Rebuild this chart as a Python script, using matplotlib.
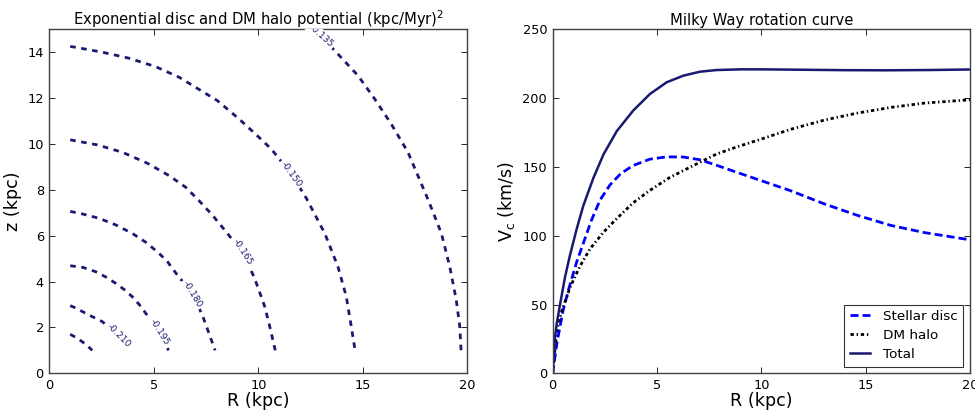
import matplotlib
matplotlib.use("Agg")
import matplotlib.pyplot as plt

# ---------------------------------------------------------------
# Potential contours in the (R, z) plane, levels in (kpc/Myr)^2
# ---------------------------------------------------------------
levels = [-0.225, -0.210, -0.195, -0.180, -0.165, -0.150, -0.135]

contour_R = [
    [1.00, 1.30, 1.60, 1.85, 2.05],
    [1.00, 1.23, 1.90, 2.54, 3.00, 3.30, 3.60, 3.88],
    [1.00, 1.60, 2.22, 2.70, 3.18, 3.60, 3.97, 4.30, 4.61, 4.95, 5.29, 5.50, 5.70],
    [1.00, 1.58, 2.38, 3.18, 3.97, 4.69, 5.33, 5.65, 6.12, 6.50, 6.84, 7.10,
     7.32, 7.64, 7.93],
    [1.00, 2.30, 3.49, 4.69, 5.73, 6.53, 7.16, 7.80, 8.52, 9.24, 9.79, 10.00,
     10.31, 10.55, 10.81],
    [1.00, 1.23, 2.54, 3.81, 5.09, 6.21, 7.00, 8.04, 9.08, 9.95, 10.62, 11.58,
     12.30, 13.18, 13.81, 14.21, 14.45, 14.63],
    [12.30, 13.00, 13.81, 14.77, 15.57, 16.36, 17.16, 18.12, 18.76, 19.16,
     19.47, 19.64, 19.70],
]
contour_z = [
    [1.70, 1.55, 1.36, 1.18, 1.00],
    [2.95, 2.86, 2.54, 2.25, 1.88, 1.63, 1.32, 1.00],
    [4.69, 4.62, 4.43, 4.20, 3.92, 3.64, 3.34, 3.00, 2.62, 2.22, 1.78, 1.42, 1.00],
    [7.06, 6.95, 6.76, 6.47, 6.10, 5.67, 5.16, 4.87, 4.29, 3.87, 3.45, 2.96,
     2.54, 1.74, 1.00],
    [10.18, 9.96, 9.64, 9.16, 8.62, 8.11, 7.53, 6.90, 6.10, 5.27, 4.21, 3.70,
     2.90, 2.03, 1.00],
    [14.25, 14.22, 14.00, 13.74, 13.37, 12.91, 12.47, 11.89, 11.09, 10.36, 9.78,
     8.69, 7.63, 6.10, 4.65, 3.34, 2.03, 1.00],
    [15.30, 14.70, 13.92, 12.98, 11.96, 10.87, 9.64, 7.58, 6.10, 4.65, 3.20,
     2.03, 1.00],
]

# inline labels: which level, where it sits (R, z) and its angle
label_levels = [-0.210, -0.195, -0.180, -0.165, -0.150, -0.135]
label_R = [3.30, 5.29, 6.84, 9.24, 11.58, 13.00]
label_z = [1.63, 1.78, 3.45, 5.27, 8.69, 14.70]
label_angle = [-45, -58, -59, -57, -54, -42]

# ---------------------------------------------------------------
# Rotation curve components, R in kpc, V in km/s
# ---------------------------------------------------------------
R_disc = [0.0, 0.2, 0.5, 0.8, 1.15, 1.5, 1.85, 2.27, 2.75, 3.25, 3.85, 4.65,
          5.45, 6.25, 7.05, 7.85, 8.8, 9.8, 11.4, 13.0, 14.6, 16.2, 17.8, 20.0]
V_disc = [0.0, 22.0, 46.0, 63.0, 81.0, 96.0, 111.0, 126.0, 137.0, 145.0, 151.0,
          155.6, 157.3, 157.2, 155.2, 151.2, 146.2, 141.0, 132.7, 123.2, 114.8,
          107.5, 102.3, 97.0]

R_halo = [0.0, 0.19, 0.43, 0.83, 1.31, 1.79, 2.43, 3.07, 3.86, 4.66, 5.62,
          6.74, 7.86, 8.82, 9.85, 11.44, 13.04, 14.63, 16.23, 17.83, 20.0]
V_halo = [0.0, 31.0, 45.0, 62.5, 78.0, 90.5, 102.5, 112.5, 124.0, 133.0, 142.4,
          151.0, 159.4, 164.5, 169.5, 177.5, 184.1, 189.2, 193.3, 196.4, 198.8]

R_total = [0.0, 0.1, 0.19, 0.35, 0.59, 0.83, 1.15, 1.47, 1.95, 2.43, 3.07, 3.86,
           4.66, 5.46, 6.26, 7.06, 7.86, 9.0, 10.0, 12.0, 14.0, 16.0, 18.0, 20.0]
V_total = [0.0, 25.0, 36.0, 50.0, 70.0, 86.0, 105.0, 122.0, 142.0, 159.0,
           176.0, 191.0, 203.0, 211.5, 216.3, 219.2, 220.4, 220.9, 220.9, 220.6,
           220.3, 220.2, 220.4, 220.8]

NAVY = "#191970"

plt.rcParams["font.family"] = "DejaVu Sans"
plt.rcParams["mathtext.fontset"] = "dejavusans"

fig = plt.figure(figsize=(9.75, 4.11), dpi=100)
ax1 = fig.add_axes([0.0506, 0.0917, 0.4287, 0.8370])
ax2 = fig.add_axes([0.5669, 0.0917, 0.4280, 0.8370])

for ax in (ax1, ax2):
    ax.tick_params(direction="in", top=True, right=True, length=4, width=0.6,
                   labelsize=9.3, pad=4, colors="black")
    for sp in ax.spines.values():
        sp.set_color("#404040")
        sp.set_linewidth(1.0)

# ---- left: potential contours
for R, z in zip(contour_R, contour_z):
    ax1.plot(R, z, color=NAVY, lw=2.0, linestyle=(0, (2.0, 2.0)),
             dash_capstyle="butt", clip_on=True)

for lev, R, z, ang in zip(label_levels, label_R, label_z, label_angle):
    ax1.text(R, z, "%.3f" % lev, color=NAVY, fontsize=6.6, rotation=ang,
             rotation_mode="anchor", ha="center", va="center", clip_on=True,
             bbox=dict(boxstyle="square,pad=0.2", fc="white", ec="none"),
             zorder=3)

ax1.set_xlim(0, 20)
ax1.set_ylim(0, 15)
ax1.set_xticks([0, 5, 10, 15, 20])
ax1.set_yticks([0, 2, 4, 6, 8, 10, 12, 14])
ax1.set_xlabel("R (kpc)", fontsize=12.6, labelpad=0)
ax1.set_ylabel("z (kpc)", fontsize=12.6, labelpad=4)
ax1.set_title(r"Exponential disc and DM halo potential $\mathrm{(kpc/Myr)^2}$",
              fontsize=10.6, pad=3)

# ---- right: rotation curve
ax2.plot(R_disc, V_disc, color="blue", lw=2.0, linestyle=(0, (2.9, 1.45)),
         label="Stellar disc")
ax2.plot(R_halo, V_halo, color="black", lw=2.0,
         linestyle=(0, (1.2, 1.0, 0.5, 1.0)), label="DM halo")
ax2.plot(R_total, V_total, color=NAVY, lw=1.8, label="Total")

ax2.set_xlim(0, 20)
ax2.set_ylim(0, 250)
ax2.set_xticks([0, 5, 10, 15, 20])
ax2.set_yticks([0, 50, 100, 150, 200, 250])
ax2.set_xlabel("R (kpc)", fontsize=12.6, labelpad=0)
ax2.set_ylabel(r"V$_\mathrm{c}$ (km/s)", fontsize=12.6, labelpad=4)
ax2.set_title("Milky Way rotation curve", fontsize=10.6, pad=3)

leg = ax2.legend(loc="lower right", fontsize=9.7, fancybox=False,
                 handlelength=1.5, handletextpad=1.0, borderpad=0.4,
                 labelspacing=0.45, borderaxespad=0.5)
leg.get_frame().set_edgecolor("black")
leg.get_frame().set_linewidth(0.8)

fig.savefig("out.png", dpi=100)
